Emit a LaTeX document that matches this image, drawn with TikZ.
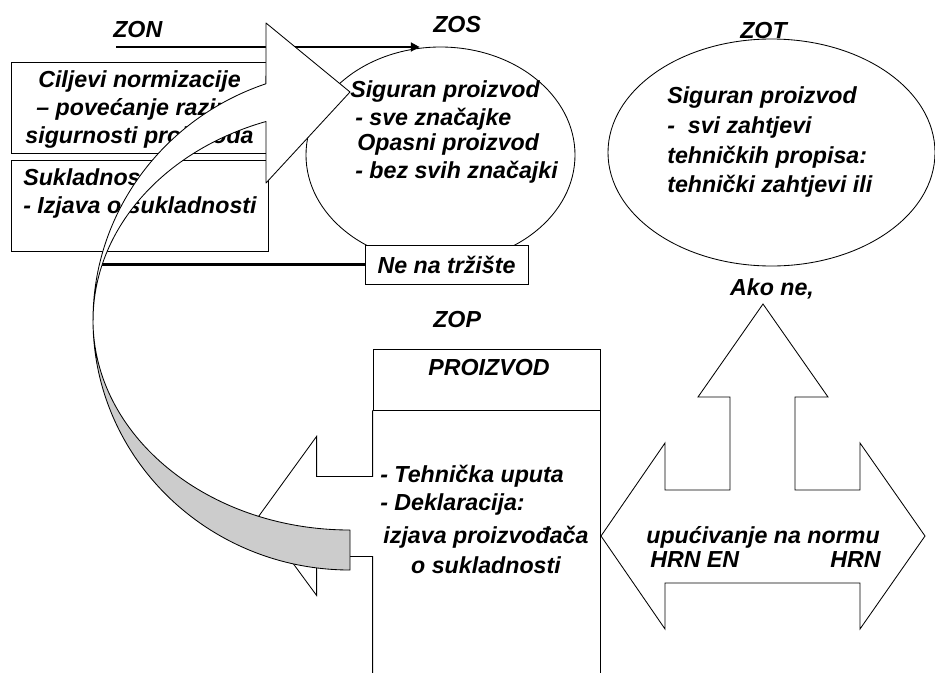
\documentclass[tikz,border=0pt]{standalone}
\usepackage{fontspec}
\setmainfont{Liberation Sans}
\usetikzlibrary{arrows.meta,positioning,shapes.geometric}
\newcommand\pxu{0.025cm}
\definecolor{ribbongray}{HTML}{CCCCCC}
\tikzset{
  lbl/.style={font=\bfseries\itshape\fontsize{16.5}{20}\selectfont,inner sep=0pt},
  frame/.style={draw,line width=0.6pt},
  zone/.style={ellipse,frame,inner sep=0pt},
  panel/.style={rectangle,frame,fill=white,inner sep=0pt},
  heavy/.style={line width=1.6pt},
  ribbon/.style={draw,line width=0.6pt,line join=round}
}

\begin{document}
\begin{tikzpicture}[x=\pxu,y=-\pxu]
  \useasboundingbox (0,0) rectangle (935,672);
  \clip (0,0) rectangle (935,672);

  % left panels
  \node[panel,minimum width=257*\pxu,minimum height=91*\pxu] (cilj) at (139.5,107.5) {};
  \node[panel,minimum width=257*\pxu,minimum height=91*\pxu,below=0.175cm of cilj] (sukl) {};
  \foreach \txt [count=\i] in {Ciljevi normizacije,– povećanje razine,sigurnosti proizvoda}
    \node[lbl,anchor=base] (cilj-\i) at (139.5,59+28*\i) {\txt};
  \node[lbl,anchor=base west] (sukl-1) at (23,185) {Sukladnost};
  \node[lbl,anchor=base west] (sukl-2) at (23,213) {- Izjava o sukladnosti};

  % zones
  \node[zone,minimum width=269*\pxu,minimum height=216*\pxu] (zos) at (440.5,155) {};
  \node[zone,minimum width=327*\pxu,minimum height=227*\pxu] (zot) at (771.5,152.5) {};
  \node[lbl,anchor=base west] (zonlbl) at (113,37) {ZON};
  \node[lbl,anchor=base west] (zoslbl) at (433,32) {ZOS};
  \node[lbl,anchor=base west] (zotlbl) at (740,38) {ZOT};
  \node[lbl,anchor=base west] (zoplbl) at (433,327) {ZOP};

  \coordinate (zonstart) at (116,47);
  \draw[heavy,-{Triangle[length=0.22cm,width=0.22cm]}] (zonstart) -- (zonstart -| zos.101);

  \foreach \y/\txt [count=\i] in {103/Siguran proizvod,133/-~~svi zahtjevi,163/tehničkih propisa:,192/tehnički zahtjevi ili}
    \node[lbl,anchor=base west] (zot-\i) at (667,\y) {\txt};

  % not on the market
  \node[panel,lbl,minimum width=163*\pxu,minimum height=39*\pxu] (ne) at (446.5,264.5) {Ne na tržište};
  \coordinate (neend) at (102,264.5);
  \draw[heavy] (ne.west) -- (neend);

  % product
  \node[panel,minimum width=227*\pxu,minimum height=61*\pxu] (prod) at (486.5,379.5) {};
  \node[lbl,anchor=base] (prodlbl) at (489,375) {PROIZVOD};
  \draw[frame] (prod.south west) -- ++(0,66) -- ++(-56,0) -- ++(0,-40) -- ++(-58,80)
    -- ++(58,79) -- ++(0,-39) -- ++(56,0) -- ++(0,130);
  \draw[frame] (prod.south east) -- ++(0,270);
  \node[lbl,anchor=base west] (prod-1) at (380,482) {- Tehnička uputa};
  \node[lbl,anchor=base west] (prod-2) at (380,510) {- Deklaracija:};
  \node[lbl,anchor=base] (prod-3) at (486,543) {izjava proizvođača};
  \node[lbl,anchor=base] (prod-4) at (486,573) {o sukladnosti};

  % norm reference arrows
  \draw[frame] (763,304) -- (828,397) -- (795,397) -- (795,490) -- (860,490) -- (860,443)
    -- (925,536) -- (860,629) -- (860,583) -- (665,583) -- (665,629) -- (601,536)
    -- (665,443) -- (665,490) -- (730,490) -- (730,397) -- (698,397) -- cycle;
  \node[lbl,anchor=base] (akone) at (772,295) {Ako ne,};
  \node[lbl,anchor=base] (norm) at (763,543) {upućivanje na normu};
  \node[lbl,anchor=base west] (hrnen) at (650,567) {HRN EN};
  \node[lbl,anchor=base east] (hrn) at (881,567) {HRN};

  % curved arrow
  \draw[ribbon,fill=white] (93,320) arc[start angle=180,end angle=250.9,x radius=257,y radius=250]
    -- (266,23) -- (350,92) -- (266,183) -- (266,121.5)
    arc[start angle=250.9,end angle=180,x radius=257,y radius=210] -- cycle;
  \draw[ribbon,fill=ribbongray] (93,320) arc[start angle=180,end angle=90,x radius=257,y radius=250]
    -- (350,530) arc[start angle=90,end angle=180,x radius=257,y radius=210] -- cycle;

  \foreach \x/\y/\txt [count=\i] in {350/97/Siguran proizvod,355/125/- sve značajke,357/150/Opasni proizvod,355/178/- bez svih značajki}
    \node[lbl,anchor=base west] (zos-\i) at (\x,\y) {\txt};
\end{tikzpicture}
\end{document}
